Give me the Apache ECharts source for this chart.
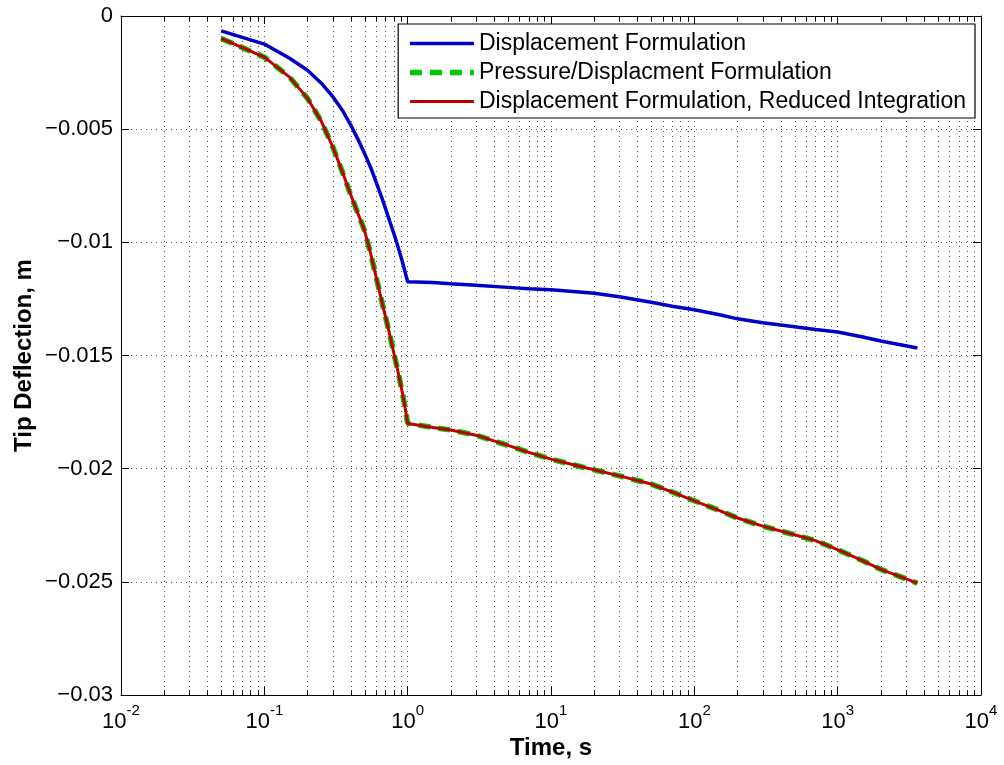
<!DOCTYPE html>
<html>
<head>
<meta charset="utf-8">
<script src="https://cdn.jsdelivr.net/npm/echarts@6/dist/echarts.min.js"></script>
<style>
  html, body { margin: 0; padding: 0; background: #fff; }
  #chart { width: 1004px; height: 765px; }
</style>
</head>
<body>
<div id="chart"></div>
<script>
// Time steps of the consolidation analysis (s)
const timeS = [0.05, 0.1, 0.15, 0.2, 0.25, 0.3, 0.35, 0.4, 0.45, 0.5,
  0.55, 0.6, 0.65, 0.7, 0.75, 0.8, 0.85, 0.9, 0.95, 1.0,
  1.5, 2, 3, 5, 7, 10, 15, 20, 30, 50, 70, 100, 150, 200, 300, 500, 700,
  1000, 1500, 2000, 3600];

// Tip deflection (m) for each formulation
const dispForm = [-0.00066, -0.00124, -0.00187, -0.00240, -0.00297, -0.00356, -0.00416, -0.00481, -0.00545, -0.00607,
  -0.00667, -0.00731, -0.00791, -0.00850, -0.00908, -0.00960, -0.01013, -0.01066, -0.01121, -0.01174,
  -0.01177, -0.01183, -0.01190, -0.01199, -0.01205, -0.01210, -0.01218, -0.01225, -0.01240, -0.01265, -0.01282,
  -0.01298, -0.01320, -0.01338, -0.01355, -0.01373, -0.01385, -0.01396, -0.01418, -0.01436, -0.01467];

const pressDispForm = [-0.00099, -0.00182, -0.00270, -0.00364, -0.00466, -0.00578, -0.00688, -0.00789, -0.00873, -0.00948,
  -0.01047, -0.01148, -0.01243, -0.01328, -0.01409, -0.01488, -0.01563, -0.01637, -0.01713, -0.01800,
  -0.01818, -0.01829, -0.01852, -0.01897, -0.01928, -0.01958, -0.01986, -0.02005, -0.02032, -0.02068, -0.02103,
  -0.02142, -0.02185, -0.02218, -0.02254, -0.02292, -0.02318, -0.02358, -0.02407, -0.02445, -0.02506];

const dispReducedForm = [-0.00099, -0.00182, -0.00270, -0.00364, -0.00466, -0.00578, -0.00688, -0.00789, -0.00873, -0.00948,
  -0.01047, -0.01148, -0.01243, -0.01328, -0.01409, -0.01488, -0.01563, -0.01637, -0.01713, -0.01800,
  -0.01818, -0.01829, -0.01852, -0.01897, -0.01928, -0.01958, -0.01986, -0.02005, -0.02032, -0.02068, -0.02103,
  -0.02142, -0.02185, -0.02218, -0.02254, -0.02292, -0.02318, -0.02358, -0.02407, -0.02445, -0.02506];

const seriesNames = ['Displacement Formulation', 'Pressure/Displacment Formulation',
  'Displacement Formulation, Reduced Integration'];

// Axis ranges
const xRange = [0.01, 10000];
const yRange = [-0.03, 0];
const yStep = 0.005;

const FONT = "'Liberation Sans', Arial, Helvetica, sans-serif";

// Line styles of the three formulations
const BLUE = { color: '#0000C8', width: 3.5 };
const GREEN = { color: '#00C800', width: 5.5, type: [12, 8] };
const RED = { color: '#C00000', width: 3 };

// Minor log ticks: 2..9 within each decade
const minorX = [];
for (let e = Math.round(Math.log10(xRange[0])); e < Math.round(Math.log10(xRange[1])); e++) {
  for (let m = 2; m <= 9; m++) minorX.push([+(m * Math.pow(10, e)).toPrecision(3), 0]);
}

const pair = (xs, ys) => xs.map((x, i) => [x, ys[i]]);

const DOT = [1, 4];

function renderMinor(params, api) {
  const cs = params.coordSys;
  const x = Math.round(api.coord([api.value(0), yRange[1]])[0]) + 0.5;
  const top = cs.y, bot = cs.y + cs.height;
  return {
    type: 'group',
    children: [
      { type: 'line', shape: { x1: x, y1: top, x2: x, y2: bot },
        style: { stroke: '#000', lineWidth: 1, lineDash: DOT, opacity: 0.7 } },
      { type: 'line', shape: { x1: x, y1: bot, x2: x, y2: bot - 5 }, style: { stroke: '#000', lineWidth: 1 } },
      { type: 'line', shape: { x1: x, y1: top, x2: x, y2: top + 5 }, style: { stroke: '#000', lineWidth: 1 } }
    ]
  };
}

const gridLine = { show: true, lineStyle: { color: '#000', width: 1, type: DOT, opacity: 0.7 } };
const boxLine = { show: true, onZero: false, lineStyle: { color: '#000', width: 1 } };
const majorTick = { show: true, inside: true, length: 8, lineStyle: { color: '#000' } };

const chart = echarts.init(document.getElementById('chart'), null, { renderer: 'canvas' });
chart.setOption({
  animation: false,
  backgroundColor: '#fff',
  textStyle: { fontFamily: FONT },
  grid: { left: 121, right: 23, top: 16, bottom: 70, containLabel: false, outerBoundsMode: 'none' },
  legend: {
    orient: 'vertical',
    right: 29, top: 24,
    data: [
      { name: seriesNames[0], lineStyle: { width: BLUE.width } },
      { name: seriesNames[1], lineStyle: { width: GREEN.width, type: GREEN.type } },
      { name: seriesNames[2], lineStyle: { width: RED.width } }
    ],
    backgroundColor: '#fff',
    borderColor: '#000', borderWidth: 1.2, borderRadius: 0,
    padding: [5, 9, 2, 9],
    itemWidth: 64, itemHeight: 14, itemGap: 0,
    itemStyle: { opacity: 0 },
    textStyle: { fontFamily: FONT, fontSize: 23, color: '#000', lineHeight: 29 }
  },
  xAxis: [{
    type: 'log', logBase: 10, min: xRange[0], max: xRange[1],
    name: 'Time, s', nameLocation: 'middle', nameGap: 41, nameMoveOverlap: false,
    nameTextStyle: { fontFamily: FONT, fontSize: 24, fontWeight: 'bold', color: '#000' },
    axisLine: boxLine,
    axisTick: majorTick,
    splitLine: gridLine,
    axisLabel: {
      margin: 6, color: '#000',
      formatter: v => '{b|10}{s|' + Math.round(Math.log10(v)) + '}',
      rich: {
        b: { fontFamily: FONT, fontSize: 22, color: '#000', padding: [10, 0, 0, 0] },
        s: { fontFamily: FONT, fontSize: 15, color: '#000', padding: [0, 0, 12, 0] }
      }
    }
  }, {
    type: 'log', logBase: 10, min: xRange[0], max: xRange[1], position: 'top',
    axisLine: boxLine, axisTick: majorTick,
    axisLabel: { show: false }, splitLine: { show: false }
  }],
  yAxis: [{
    type: 'value', min: yRange[0], max: yRange[1], interval: yStep,
    name: 'Tip Deflection, m', nameLocation: 'middle', nameGap: 85, nameRotate: 90, nameMoveOverlap: false,
    nameTextStyle: { fontFamily: FONT, fontSize: 24, fontWeight: 'bold', color: '#000' },
    axisLine: boxLine,
    axisTick: majorTick,
    splitLine: gridLine,
    axisLabel: {
      margin: 8, color: '#000', fontFamily: FONT, fontSize: 22,
      formatter: v => {
        const a = parseFloat(Math.abs(v).toPrecision(6));
        return a === 0 ? '0' : '\u2212' + a;
      }
    }
  }, {
    type: 'value', min: yRange[0], max: yRange[1], interval: yStep, position: 'right',
    axisLine: boxLine, axisTick: majorTick,
    axisLabel: { show: false }, splitLine: { show: false }
  }],
  series: [
    {
      type: 'custom', name: 'minor', xAxisIndex: 0, yAxisIndex: 0,
      data: minorX, renderItem: renderMinor, silent: true, z: 1
    },
    {
      type: 'line', name: seriesNames[0], data: pair(timeS, dispForm),
      showSymbol: false, symbol: 'none', z: 3,
      lineStyle: BLUE, itemStyle: { color: BLUE.color }
    },
    {
      type: 'line', name: seriesNames[1], data: pair(timeS, pressDispForm),
      showSymbol: false, symbol: 'none', z: 4,
      lineStyle: GREEN, itemStyle: { color: GREEN.color }
    },
    {
      type: 'line', name: seriesNames[2], data: pair(timeS, dispReducedForm),
      showSymbol: false, symbol: 'none', z: 5,
      lineStyle: RED, itemStyle: { color: RED.color }
    }
  ]
});
</script>
</body>
</html>
